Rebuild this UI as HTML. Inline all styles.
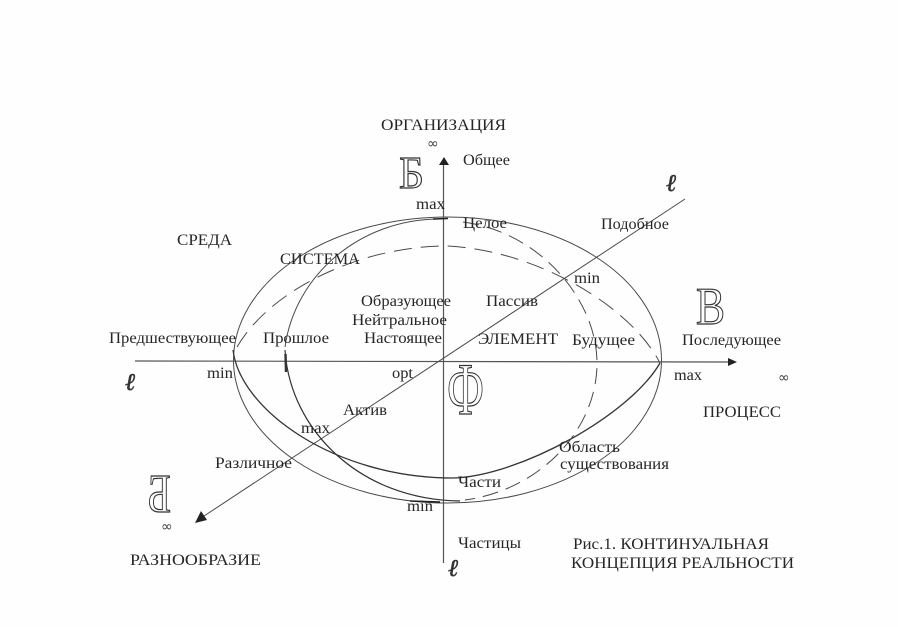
<!DOCTYPE html>
<html lang="ru">
<head>
<meta charset="utf-8">
<title>Рис.1. Континуальная концепция реальности</title>
<style>
html,body{margin:0;padding:0;background:#fefefe;}
svg{display:block;}
text{font-family:"Liberation Serif","DejaVu Serif",serif;font-size:15.5px;fill:#262626;}
.o{fill:none;stroke:#333;stroke-width:1.2;}
.s{font-family:"DejaVu Sans",sans-serif;fill:#444;}
.l{font-family:"DejaVu Serif",serif;font-size:24px;font-style:italic;fill:#333;stroke:#333;stroke-width:.6;}
</style>
</head>
<body>
<svg width="898" height="627" viewBox="0 0 898 627" xmlns="http://www.w3.org/2000/svg">
<rect width="898" height="627" fill="#fefefe"/>
<g fill="none" stroke="#4a4a4a" stroke-width="1">
<ellipse cx="447.5" cy="360" rx="214" ry="143"/>
<line x1="135" y1="361" x2="729" y2="362" stroke="#555" stroke-width="1.2"/>
<line x1="443.5" y1="165" x2="443.5" y2="563" stroke="#555" stroke-width="1.2"/>
<line x1="685" y1="199" x2="201" y2="518"/>
<!-- lower solid curve -->
<path d="M233,350 C240,410 335,478 453,478 C520,476 630,415 660,363" stroke="#333" stroke-width="1.3"/>
<!-- lower-left solid arc of the vertical ellipse -->
<path d="M285,350 C290,430 360,500 460,501" stroke="#333" stroke-width="1.2"/>
<path d="M285.5,354 L286,372" stroke="#333" stroke-width="2.4"/>
<!-- upper-left solid arc of the vertical ellipse -->
<path d="M285,347 C295,275 360,219 440,219" stroke="#4a4a4a"/>
<!-- dashed right half of the vertical ellipse -->
<path d="M463,222 C540,232 597,300 597,363 C597,430 540,490 465,500" stroke-dasharray="16 8"/>
<!-- dashed upper curve -->
<path d="M237,347 C270,290 360,246 447,246 C535,250 630,305 660,363" stroke-dasharray="18 9"/>
<path d="M433,219 L448,218.5" stroke="#222" stroke-width="1.6"/>
<path d="M410,501 L440,502" stroke="#222" stroke-width="1.4"/>
</g>
<polygon points="444,157 439,165 449,165" fill="#222"/>
<polygon points="737,362 728,358 728,366" fill="#222"/>
<polygon points="195,523 207,520 201,511" fill="#222"/>

<g transform="translate(0,1)">
<text x="381" y="129" textLength="125" lengthAdjust="spacingAndGlyphs">ОРГАНИЗАЦИЯ</text>
<text class="s" x="427" y="147" style="font-size:14px">∞</text>
<text x="463" y="164" textLength="47" lengthAdjust="spacingAndGlyphs">Общее</text>
<text x="416" y="208" textLength="29" lengthAdjust="spacingAndGlyphs">max</text>
<text x="463" y="227" textLength="44" lengthAdjust="spacingAndGlyphs">Целое</text>
<text x="601" y="228" textLength="68" lengthAdjust="spacingAndGlyphs">Подобное</text>
<text x="177" y="244" textLength="55" lengthAdjust="spacingAndGlyphs">СРЕДА</text>
<text x="280" y="263" textLength="80" lengthAdjust="spacingAndGlyphs">СИСТЕМА</text>
<text x="574" y="282" textLength="26" lengthAdjust="spacingAndGlyphs">min</text>
<text x="361" y="305" textLength="90" lengthAdjust="spacingAndGlyphs">Образующее</text>
<text x="486" y="305" textLength="52" lengthAdjust="spacingAndGlyphs">Пассив</text>
<text x="352" y="324" textLength="95" lengthAdjust="spacingAndGlyphs">Нейтральное</text>
<text x="109" y="342" textLength="127" lengthAdjust="spacingAndGlyphs">Предшествующее</text>
<text x="263" y="342" textLength="66" lengthAdjust="spacingAndGlyphs">Прошлое</text>
<text x="364" y="342" textLength="78" lengthAdjust="spacingAndGlyphs">Настоящее</text>
<text x="478" y="343" textLength="80" lengthAdjust="spacingAndGlyphs">ЭЛЕМЕНТ</text>
<text x="572" y="344" textLength="63" lengthAdjust="spacingAndGlyphs">Будущее</text>
<text x="682" y="344" textLength="99" lengthAdjust="spacingAndGlyphs">Последующее</text>
<text x="207" y="377" textLength="26" lengthAdjust="spacingAndGlyphs">min</text>
<text x="392" y="377" textLength="21" lengthAdjust="spacingAndGlyphs">opt</text>
<text x="674" y="379" textLength="28" lengthAdjust="spacingAndGlyphs">max</text>
<text class="s" x="778" y="381" style="font-size:14px">∞</text>
<text x="343" y="414" textLength="44" lengthAdjust="spacingAndGlyphs">Актив</text>
<text x="703" y="416" textLength="78" lengthAdjust="spacingAndGlyphs">ПРОЦЕСС</text>
<text x="301" y="432" textLength="29" lengthAdjust="spacingAndGlyphs">max</text>
<text x="559" y="451" textLength="61" lengthAdjust="spacingAndGlyphs">Область</text>
<text x="215" y="467" textLength="77" lengthAdjust="spacingAndGlyphs">Различное</text>
<text x="560" y="468" textLength="109" lengthAdjust="spacingAndGlyphs">существования</text>
<text x="458" y="486" textLength="43" lengthAdjust="spacingAndGlyphs">Части</text>
<text x="407" y="510" textLength="26" lengthAdjust="spacingAndGlyphs">min</text>
<text class="s" x="161" y="530" style="font-size:14px">∞</text>
<text x="458" y="547" textLength="63" lengthAdjust="spacingAndGlyphs">Частицы</text>
<text x="573" y="548" textLength="196" lengthAdjust="spacingAndGlyphs">Рис.1. КОНТИНУАЛЬНАЯ</text>
<text x="130" y="564" textLength="131" lengthAdjust="spacingAndGlyphs">РАЗНООБРАЗИЕ</text>
<text x="571" y="567" textLength="223" lengthAdjust="spacingAndGlyphs">КОНЦЕПЦИЯ РЕАЛЬНОСТИ</text>
</g>

<text class="o" x="399" y="188" textLength="25" lengthAdjust="spacingAndGlyphs" style="font-size:46px">Б</text>
<text class="o" x="696" y="324" textLength="29" lengthAdjust="spacingAndGlyphs" style="font-size:53px">В</text>
<text class="o" transform="translate(171,512) scale(-1,1)" x="0" y="0" textLength="24" lengthAdjust="spacingAndGlyphs" style="font-size:55px">Б</text>
<text class="o" x="447" y="414" textLength="37" lengthAdjust="spacingAndGlyphs" style="font-size:74px">Ф</text>

<text class="l" x="666" y="191">ℓ</text>
<text class="l" x="125" y="390">ℓ</text>
<text class="l" x="448" y="576">ℓ</text>
</svg>
</body>
</html>
